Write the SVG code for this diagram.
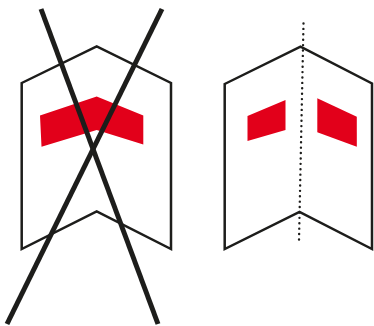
<svg xmlns="http://www.w3.org/2000/svg" width="374" height="326" viewBox="0 0 374 326">
<style>
.outline{fill:none;stroke:#1d1d1b;stroke-width:2.5;stroke-linejoin:miter}
.red{fill:#e2001a;stroke:none}
.cross{stroke:#1d1d1b;stroke-width:5;fill:none}
.dots{stroke:#1d1d1b;stroke-width:2.4;stroke-linecap:round;stroke-dasharray:0 5.4;fill:none}
</style>
<rect width="374" height="326" fill="#ffffff"/>
<g id="wrong-sign">
<polygon class="outline" points="21.7,83 96.7,46.5 171,83 171,249 96.7,211.5 21.7,249"/>
<polygon class="red" points="40,115.5 96.7,96.5 143.3,115.5 143.3,144.5 96.7,130 41.5,146.7"/>
</g>
<g id="right-sign">
<polygon class="outline" points="224.7,84 300.5,46.7 372,83.5 372,249 299.5,212 224.7,249"/>
<polygon class="red" points="247.5,116 285.5,100 285.5,130 247.5,141"/>
<polygon class="red" points="317.3,98.3 356.8,116.7 356.8,146.7 317.3,132.3"/>
</g>
<g id="connectors">
<line class="cross" x1="41" y1="9" x2="158" y2="324"/>
<line class="cross" x1="162" y1="9" x2="7" y2="324"/>
<line class="dots" x1="303.5" y1="23.5" x2="299" y2="241"/>
</g>
</svg>
